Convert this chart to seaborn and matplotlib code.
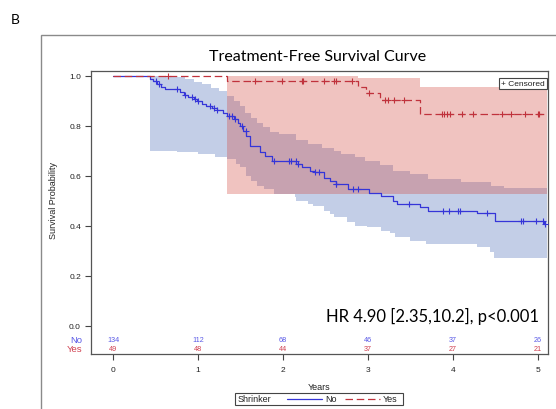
import numpy as np
import pandas as pd
import matplotlib
matplotlib.use("Agg")
import matplotlib.pyplot as plt
from matplotlib.lines import Line2D
from matplotlib.patches import Rectangle
import seaborn as sns

# ---- Kaplan-Meier estimates, Shrinker = No ----
no_time = [0.0, 0.44, 0.475, 0.515, 0.56, 0.61, 0.79, 0.83, 0.88, 0.95, 0.99, 1.05,
           1.10, 1.16, 1.22, 1.30, 1.34, 1.42, 1.47, 1.50, 1.53, 1.57, 1.61, 1.73,
           1.79, 1.87, 2.16, 2.22, 2.32, 2.37, 2.48, 2.55, 2.62, 2.77, 3.01, 3.16,
           3.30, 3.34, 3.62, 3.71, 4.28, 4.50, 5.07, 5.09]
no_surv = [1.0, 0.985, 0.978, 0.967, 0.955, 0.947, 0.933, 0.923, 0.915, 0.905, 0.897, 0.887,
           0.877, 0.870, 0.864, 0.850, 0.840, 0.827, 0.812, 0.797, 0.780, 0.760, 0.720, 0.693,
           0.677, 0.660, 0.645, 0.633, 0.620, 0.613, 0.590, 0.578, 0.565, 0.545, 0.532, 0.520,
           0.500, 0.487, 0.473, 0.460, 0.449, 0.420, 0.405, 0.405]
no_censor = [0.50, 0.54, 0.75, 0.85, 0.93, 0.97, 1.00, 1.14, 1.19, 1.23, 1.36, 1.40, 1.44,
             1.52, 1.56, 1.89, 2.07, 2.09, 2.15, 2.18, 2.38, 2.43, 2.62, 2.63, 2.83, 2.89,
             3.49, 3.89, 3.96, 4.06, 4.09, 4.40, 4.80, 4.83, 4.98, 5.06, 5.09]
no_ci_up_time = [0.44, 0.70, 0.85, 0.95, 1.05, 1.15, 1.25, 1.34, 1.42, 1.50, 1.55, 1.62,
                 1.70, 1.77, 1.85, 1.95, 2.16, 2.30, 2.46, 2.60, 2.69, 2.85, 2.97, 3.14,
                 3.30, 3.50, 3.71, 4.10, 4.45, 4.60]
no_ci_up = [1.0, 0.993, 0.985, 0.975, 0.965, 0.952, 0.94, 0.92, 0.90, 0.88, 0.85, 0.83,
            0.81, 0.795, 0.775, 0.765, 0.742, 0.725, 0.712, 0.70, 0.687, 0.675, 0.66, 0.642,
            0.618, 0.605, 0.585, 0.575, 0.56, 0.55]
no_ci_lo_time = [0.44, 0.75, 1.00, 1.20, 1.34, 1.45, 1.50, 1.57, 1.62, 1.69, 1.78, 1.89,
                 2.14, 2.16, 2.30, 2.36, 2.48, 2.55, 2.60, 2.75, 2.85, 2.99, 3.16, 3.26,
                 3.32, 3.50, 3.69, 4.28, 4.44, 4.48]
no_ci_lo = [0.70, 0.693, 0.685, 0.675, 0.665, 0.648, 0.635, 0.60, 0.58, 0.56, 0.545, 0.527,
            0.513, 0.50, 0.485, 0.477, 0.46, 0.445, 0.433, 0.413, 0.40, 0.393, 0.38, 0.372,
            0.353, 0.34, 0.327, 0.313, 0.293, 0.272]

# ---- Kaplan-Meier estimates, Shrinker = Yes ----
yes_time = [0.0, 1.34, 2.89, 2.98, 3.14, 3.61, 5.11]
yes_surv = [1.0, 0.978, 0.954, 0.930, 0.903, 0.847, 0.847]
yes_censor = [0.65, 1.67, 1.99, 2.22, 2.24, 2.48, 2.60, 2.63, 2.81, 3.01, 3.20, 3.24,
              3.31, 3.43, 3.87, 3.90, 3.93, 3.97, 4.11, 4.24, 4.58, 4.68, 4.85, 5.00, 5.02]
yes_ci_up_time = [1.34, 2.89, 3.61]
yes_ci_up = [1.0, 0.99, 0.955]
yes_ci_lo_time = [1.34]
yes_ci_lo = [0.525]

band_end = 5.11

# ---- numbers at risk ----
risk_years = [0, 1, 2, 3, 4, 5]
risk_no = [134, 112, 68, 46, 37, 26]
risk_yes = [49, 48, 44, 37, 27, 21]

hr_label = "HR 4.90 [2.35,10.2], p<0.001"

BLUE_LINE = "#3535d8"
RED_LINE = "#c0323c"
BLUE_FILL = "#4a6db8"
RED_FILL = "#d24a40"
BLUE_TXT = "#5a5ae6"
RED_TXT = "#d04050"


def step_at(times, values, t):
    idx = np.searchsorted(np.asarray(times), np.asarray(t), side="right") - 1
    idx = np.clip(idx, 0, len(values) - 1)
    return np.asarray(values)[idx]


sns.set_style("white")
plt.rcParams["font.family"] = ["Liberation Sans", "DejaVu Sans"]

fig = plt.figure(figsize=(5.56, 4.10), dpi=100)
W, H = 556, 410
ax = fig.add_axes([90.7 / W, 1 - 355 / H, (547.7 - 90.7) / W, (355 - 71.7) / H])

# outer panel frame
fig.add_artist(Rectangle((40.7 / W, -0.05), 1.0, 1 - 35.7 / H + 0.05,
                         transform=fig.transFigure, fill=False,
                         edgecolor="#8a8a8a", linewidth=1.0))


def draw_band(up_t, up_v, lo_t, lo_v, color):
    grid = np.unique(np.concatenate([up_t, lo_t, [band_end]]))
    grid = grid[grid >= min(up_t[0], lo_t[0])]
    ax.fill_between(grid, step_at(lo_t, lo_v, grid), step_at(up_t, up_v, grid),
                    step="post", color=color, alpha=0.33, linewidth=0)


draw_band(no_ci_up_time, no_ci_up, no_ci_lo_time, no_ci_lo, BLUE_FILL)
draw_band(yes_ci_up_time, yes_ci_up, yes_ci_lo_time, yes_ci_lo, RED_FILL)

df_no = pd.DataFrame({"time": no_time, "surv": no_surv})
df_yes = pd.DataFrame({"time": yes_time, "surv": yes_surv})

sns.lineplot(data=df_no, x="time", y="surv", ax=ax, color=BLUE_LINE,
             drawstyle="steps-post", linewidth=0.9, estimator=None, sort=False)
sns.lineplot(data=df_yes, x="time", y="surv", ax=ax, color=RED_LINE,
             drawstyle="steps-post", linewidth=0.9, estimator=None, sort=False)
ax.lines[-1].set_dashes([6, 3])

sns.scatterplot(x=no_censor, y=step_at(no_time, no_surv, no_censor), ax=ax,
                marker="+", s=18, color=BLUE_LINE, linewidth=0.8, zorder=4)
sns.scatterplot(x=yes_censor, y=step_at(yes_time, yes_surv, yes_censor), ax=ax,
                marker="+", s=18, color=RED_LINE, linewidth=0.8, zorder=4)

# numbers at risk inside the plot area
for xv, n in zip(risk_years, risk_no):
    ax.text(xv, -0.055, str(n), ha="center", va="center", fontsize=5.2, color=BLUE_TXT)
for xv, n in zip(risk_years, risk_yes):
    ax.text(xv, -0.093, str(n), ha="center", va="center", fontsize=5.2, color=RED_TXT)
ax.text(-0.36, -0.055, "No", ha="right", va="center", fontsize=6.8, color=BLUE_TXT)
ax.text(-0.36, -0.093, "Yes", ha="right", va="center", fontsize=6.8, color=RED_TXT)

ax.text(5.02, 0.019, hr_label, ha="right", va="baseline",
        fontsize=12, family=["Lato", "DejaVu Sans"], color="black")

ax.set_xlim(-0.263, 5.118)
ax.set_ylim(-0.113, 1.02)
ax.set_xticks(risk_years)
ax.set_yticks([0.0, 0.2, 0.4, 0.6, 0.8, 1.0])
ax.set_yticklabels([f"{v:.1f}" for v in [0.0, 0.2, 0.4, 0.6, 0.8, 1.0]])
ax.tick_params(axis="both", direction="out", length=4, width=0.8, color="#444444",
               labelsize=6, labelcolor="#222222", pad=3, left=True, bottom=True)
ax.tick_params(axis="x", pad=5)
for sp in ax.spines.values():
    sp.set_color("#555555")
    sp.set_linewidth(0.9)

ax.set_xlabel("Years", fontsize=6.5, color="#222222", labelpad=6)
ax.set_ylabel("Survival Probability", fontsize=6.5, color="#222222")
ax.yaxis.set_label_coords(-0.072, 0.545)

# censored key in the upper right corner
ax.text(0.993, 0.968, "+ Censored", transform=ax.transAxes, ha="right", va="top",
        fontsize=6, color="#222222",
        bbox=dict(boxstyle="square,pad=0.25", facecolor="white",
                  edgecolor="#444444", linewidth=0.8))

# group legend below the axis
fig.add_artist(Rectangle((235 / W, 1 - 406 / H), (403 - 235) / W, 12 / H,
                         transform=fig.transFigure, fill=False,
                         edgecolor="#444444", linewidth=0.8))
ly = 1 - 400 / H
fig.text(238 / W, ly, "Shrinker", fontsize=6.5, ha="left", va="center", color="#222222")
fig.add_artist(Line2D([287 / W, 322 / W], [ly, ly], transform=fig.transFigure,
                      color=BLUE_LINE, linewidth=0.9))
fig.text(325 / W, ly, "No", fontsize=6.5, ha="left", va="center", color="#222222")
fig.add_artist(Line2D([345 / W, 380 / W], [ly, ly], transform=fig.transFigure,
                      color=RED_LINE, linewidth=0.9, dashes=[6, 3]))
fig.text(383 / W, ly, "Yes", fontsize=6.5, ha="left", va="center", color="#222222")

fig.text(318 / W, 1 - 57 / H, "Treatment-Free Survival Curve", ha="center", va="center",
         fontsize=11.5, family=["Lato", "DejaVu Sans"], color="black")
fig.text(15 / W, 1 - 20 / H, "B", ha="center", va="center",
         fontsize=10, family=["Lato", "DejaVu Sans"], color="black")

fig.savefig("out.png", dpi=100)
